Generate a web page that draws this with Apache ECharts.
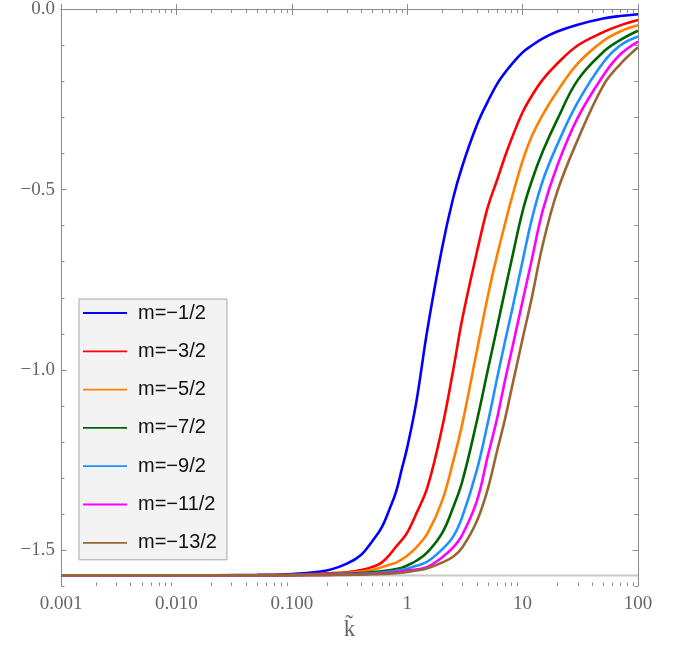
<!DOCTYPE html>
<html><head><meta charset="utf-8">
<script src="https://cdn.jsdelivr.net/npm/echarts@6/dist/echarts.min.js"></script>
<style>html,body{margin:0;padding:0;background:#fff}#c{width:680px;height:660px}</style>
</head><body><div id="c"></div>
<script>
// ---- data ----
const kTilde = [0.001, 0.01, 0.05, 0.1, 0.2, 0.3, 0.4, 0.5, 0.6, 0.7, 0.8, 0.9, 1, 1.2, 1.5, 2, 2.5, 3, 4, 5, 6, 7, 8, 10, 12, 15, 20, 30, 50, 70, 100];
const mMinus1Half  = [-1.5706,-1.5703,-1.5690,-1.5665,-1.5570,-1.5380,-1.5130,-1.4750,-1.4380,-1.3880,-1.3390,-1.2740,-1.2160,-1.0890,-0.8860,-0.6640,-0.5240,-0.4350,-0.3220,-0.2550,-0.2070,-0.1760,-0.1530,-0.1190,-0.1000,-0.0800,-0.0610,-0.0420,-0.0250,-0.0180,-0.0130];
const mMinus3Half  = [-1.5706,-1.5705,-1.5700,-1.5690,-1.5650,-1.5620,-1.5560,-1.5470,-1.5350,-1.5140,-1.4910,-1.4720,-1.4520,-1.3990,-1.3250,-1.1630,-1.0020,-0.8590,-0.6760,-0.5480,-0.4740,-0.4100,-0.3600,-0.2850,-0.2400,-0.1940,-0.1500,-0.1000,-0.0630,-0.0440,-0.0290];
const mMinus5Half  = [-1.5706,-1.5705,-1.5700,-1.5690,-1.5670,-1.5640,-1.5600,-1.5550,-1.5480,-1.5410,-1.5350,-1.5260,-1.5160,-1.4930,-1.4540,-1.3650,-1.2550,-1.1500,-0.9500,-0.7950,-0.6830,-0.5980,-0.5270,-0.4200,-0.3520,-0.2910,-0.2270,-0.1500,-0.0870,-0.0610,-0.0440];
const mMinus7Half  = [-1.5706,-1.5706,-1.5703,-1.5695,-1.5680,-1.5660,-1.5640,-1.5615,-1.5590,-1.5565,-1.5530,-1.5490,-1.5430,-1.5300,-1.5060,-1.4540,-1.3820,-1.3100,-1.1440,-1.0000,-0.8830,-0.7830,-0.6980,-0.5600,-0.4760,-0.3930,-0.3050,-0.1960,-0.1180,-0.0850,-0.0590];
const mMinus9Half  = [-1.5706,-1.5706,-1.5704,-1.5698,-1.5685,-1.5670,-1.5660,-1.5645,-1.5625,-1.5600,-1.5575,-1.5550,-1.5520,-1.5440,-1.5320,-1.4990,-1.4630,-1.4080,-1.2800,-1.1460,-1.0250,-0.9250,-0.8420,-0.6980,-0.5830,-0.4740,-0.3750,-0.2580,-0.1470,-0.1000,-0.0750];
const mMinus11Half = [-1.5706,-1.5706,-1.5705,-1.5700,-1.5692,-1.5682,-1.5672,-1.5662,-1.5650,-1.5635,-1.5615,-1.5595,-1.5570,-1.5540,-1.5470,-1.5210,-1.4930,-1.4580,-1.3660,-1.2380,-1.1360,-1.0330,-0.9500,-0.8090,-0.6950,-0.5560,-0.4330,-0.3010,-0.1830,-0.1250,-0.0890];
const mMinus13Half = [-1.5706,-1.5706,-1.5705,-1.5702,-1.5697,-1.5690,-1.5683,-1.5675,-1.5667,-1.5657,-1.5645,-1.5630,-1.5610,-1.5570,-1.5510,-1.5350,-1.5190,-1.4930,-1.4210,-1.3300,-1.2260,-1.1400,-1.0550,-0.9140,-0.8010,-0.6510,-0.5050,-0.3620,-0.2110,-0.1520,-0.1050];

const seriesNames  = ['m=\u22121/2','m=\u22123/2','m=\u22125/2','m=\u22127/2','m=\u22129/2','m=\u221211/2','m=\u221213/2'];
const seriesValues = [mMinus1Half, mMinus3Half, mMinus5Half, mMinus7Half, mMinus9Half, mMinus11Half, mMinus13Half];
const seriesColors = ['#0000ff','#ff0000','#ff8000','#006400','#1e90ff','#ff00ff','#996633'];

const baselineK = [0.001, 100];
const baselineValue = -1.5708;

const xMajorLabels = {'0.001':'0.001','0.01':'0.010','0.1':'0.100','1':'1','10':'10','100':'100'};
const xMinorTicks = [0.002,0.003,0.004,0.005,0.006,0.007,0.008,0.009,
                     0.02,0.03,0.04,0.05,0.06,0.07,0.08,0.09,
                     0.2,0.3,0.4,0.5,0.6,0.7,0.8,0.9,
                     2,3,4,5,6,7,8,9,
                     20,30,40,50,60,70,80,90];
const yMajorTicks = [0, -0.5, -1, -1.5];
const yMajorLabels = ['0.0','\u22120.5','\u22121.0','\u22121.5'];
const yMin = -1.6, yMax = 0;

// ---- chart ----
const AXIS_COLOR = '#8c8c8c';
const LABEL_COLOR = '#666';
const SERIF = "'Liberation Serif','DejaVu Serif',serif";

const chart = echarts.init(document.getElementById('c'), null, {renderer: 'canvas'});

function xAxisBase(pos, showLabels) {
  return {
    type: 'log', logBase: 10, min: 0.001, max: 100, position: pos,
    axisLine: {show: true, lineStyle: {color: AXIS_COLOR, width: 1}},
    axisTick: {show: true, inside: true, length: 5.5, lineStyle: {color: AXIS_COLOR}},
    axisLabel: {
      show: showLabels, color: LABEL_COLOR, fontFamily: SERIF, fontSize: 19, margin: 9,
      formatter: v => { const key = String(+v.toPrecision(3)); return xMajorLabels[key] !== undefined ? xMajorLabels[key] : ''; }
    },
    splitLine: {show: false}, minorTick: {show: false}
  };
}

function yAxisMajor(pos, showLabels) {
  return {
    type: 'value', min: yMin, max: yMax, position: pos,
    axisLine: {show: true, lineStyle: {color: AXIS_COLOR, width: 1}},
    axisTick: {show: true, inside: true, length: 5.5, customValues: yMajorTicks, lineStyle: {color: AXIS_COLOR}},
    axisLabel: {
      show: showLabels, customValues: yMajorTicks, color: LABEL_COLOR, fontFamily: SERIF, fontSize: 19, margin: 6,
      formatter: v => { const i = yMajorTicks.findIndex(t => Math.abs(t - v) < 1e-6); return i >= 0 ? yMajorLabels[i] : ''; }
    },
    splitLine: {show: false}
  };
}
function yAxisMinor(pos) {
  return {
    type: 'value', min: yMin, max: yMax, interval: 0.1, position: pos,
    axisLine: {show: false},
    axisTick: {show: true, inside: true, length: 3.5, lineStyle: {color: AXIS_COLOR}},
    axisLabel: {show: false},
    splitLine: {show: false}
  };
}

const xBottom = xAxisBase('bottom', true);
xBottom.name = 'k\u0303';
xBottom.nameLocation = 'middle';
xBottom.nameGap = 30;
xBottom.nameTextStyle = {color: LABEL_COLOR, fontFamily: SERIF, fontSize: 23};

const series = [];
series.push({
  name: 'baseline', type: 'line', xAxisIndex: 0, yAxisIndex: 0, silent: true, z: 1,
  symbol: 'none', lineStyle: {color: '#c8c8c8', width: 2},
  data: baselineK.map(k => [k, baselineValue])
});
seriesNames.forEach((nm, i) => {
  series.push({
    name: nm, type: 'line', xAxisIndex: 0, yAxisIndex: 0, z: 3 + i,
    symbol: 'none', smooth: 0.4,
    lineStyle: {color: seriesColors[i], width: 2.6},
    itemStyle: {color: seriesColors[i]},
    data: kTilde.map((k, j) => [k, seriesValues[i][j]])
  });
});
// minor tick marks on the log axis (bottom and top frame), placed through the axes' scales
series.push({
  name: 'minorTicks', type: 'custom', xAxisIndex: 0, yAxisIndex: 0, silent: true, z: 10,
  data: xMinorTicks.map(k => [k, yMin]),
  renderItem: (params, api) => {
    const k = api.value(0);
    const pb = api.coord([k, yMin]);
    const pt = api.coord([k, yMax]);
    const x = Math.round(pb[0]) + 0.5;
    return {type: 'group', children: [
      {type: 'line', shape: {x1: x, y1: pb[1], x2: x, y2: pb[1] - 3.5}, style: {stroke: AXIS_COLOR, lineWidth: 1}},
      {type: 'line', shape: {x1: x, y1: pt[1], x2: x, y2: pt[1] + 3.5}, style: {stroke: AXIS_COLOR, lineWidth: 1}}
    ]};
  }
});

chart.setOption({
  animation: false,
  backgroundColor: '#ffffff',
  grid: {left: 61, right: 42, top: 8, bottom: 74, containLabel: false},
  xAxis: [xBottom, xAxisBase('top', false)],
  yAxis: [yAxisMajor('left', true), yAxisMajor('right', false), yAxisMinor('left'), yAxisMinor('right')],
  legend: {
    data: seriesNames, orient: 'vertical', left: 79, top: 299,
    backgroundColor: '#f3f3f3', borderColor: '#a6a6a6', borderWidth: 1,
    padding: [4, 10, 7, 4], itemGap: 18.3, itemWidth: 44, itemHeight: 1.8,
    icon: 'rect', selectedMode: false,
    textStyle: {fontFamily: "'Liberation Sans',Arial,sans-serif", fontSize: 20, color: '#111', lineHeight: 20, padding: [0, 0, 0, 6]}
  },
  series: series
});
</script></body></html>
